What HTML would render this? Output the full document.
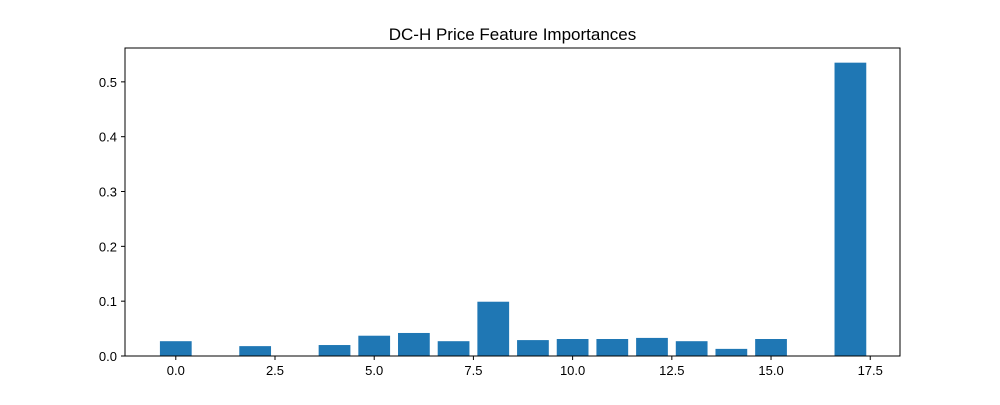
<!DOCTYPE html>
<html><head><meta charset="utf-8"><style>
body{margin:0;background:#fff;font-family:"Liberation Sans","DejaVu Sans",sans-serif;}
</style></head><body>
<svg id="chart" width="1000" height="400" xmlns="http://www.w3.org/2000/svg">
<rect width="1000" height="400" fill="#fff"/>
<text x="512.5" y="40" text-anchor="middle" font-size="17">DC-H Price Feature Importances</text>
<g id="bars"></g>
<g id="axes"></g>
</svg>
<script>
const categories=[0,1,2,3,4,5,6,7,8,9,10,11,12,13,14,15,16,17];
const importances=[0.027,0,0.018,0,0.020,0.037,0.042,0.027,0.099,0.029,0.031,0.031,0.033,0.027,0.013,0.031,0,0.535];
const xTicks=[0,2.5,5,7.5,10,12.5,15,17.5];
const xTickLabels=["0.0","2.5","5.0","7.5","10.0","12.5","15.0","17.5"];
const yTicks=[0,0.1,0.2,0.3,0.4,0.5];
const yTickLabels=["0.0","0.1","0.2","0.3","0.4","0.5"];

const L=125,R=900,T=48,B=356;
const xmin=-1.28,xmax=18.25;
const ymax=Math.max(...importances)*1.05;
const sx=v=>L+(v-xmin)/(xmax-xmin)*(R-L);
const sy=v=>B-v/ymax*(B-T);
const NS="http://www.w3.org/2000/svg";
const bars=document.getElementById('bars'),axes=document.getElementById('axes');
function mk(tag,attrs,parent){const e=document.createElementNS(NS,tag);for(const k in attrs)e.setAttribute(k,attrs[k]);parent.appendChild(e);return e;}
categories.forEach((c,i)=>{
  const v=importances[i];
  const r=mk('rect',{x:sx(c-0.4),y:sy(v),width:sx(c+0.4)-sx(c-0.4),height:B-sy(v),fill:'#1f77b4'},bars);
  
  
});
const frame=mk('rect',{x:L,y:T,width:R-L,height:B-T,fill:'none',stroke:'#000','stroke-width':1},axes);


xTicks.forEach((t,i)=>{
  const x=sx(t);
  mk('line',{x1:x,x2:x,y1:B,y2:B+4,stroke:'#000'},axes);
  const tx=mk('text',{x:x,y:B+19,'text-anchor':'middle','font-size':13},axes);
  tx.textContent=xTickLabels[i];
  
  
});
yTicks.forEach((t,i)=>{
  const y=sy(t);
  mk('line',{x1:L-4,x2:L,y1:y,y2:y,stroke:'#000'},axes);
  const tx=mk('text',{x:L-8,y:y+5,'text-anchor':'end','font-size':13},axes);
  tx.textContent=yTickLabels[i];
  
  
});
</script>
</body></html>
